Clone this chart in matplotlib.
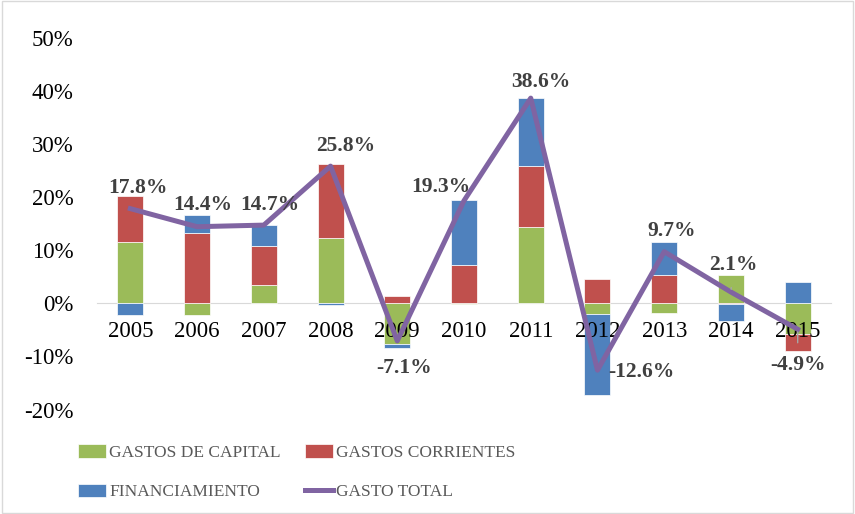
import numpy as np
import matplotlib.pyplot as plt
from matplotlib.patches import Rectangle
from matplotlib.ticker import PercentFormatter

plt.rcParams['font.family'] = ['Liberation Serif', 'DejaVu Serif']
plt.rcParams['axes.unicode_minus'] = False

# Datos (variación %)
years = ['2005', '2006', '2007', '2008', '2009', '2010', '2011', '2012', '2013', '2014', '2015']
capital = [11.5, -2.2, 3.4, 12.2, -7.7, -0.2, 14.4, -2.0, -1.8, 5.4, -5.7]
corrientes = [8.6, 13.2, 7.3, 14.0, 1.3, 7.1, 11.5, 4.6, 5.4, -0.2, -3.2]
financiamiento = [-2.3, 3.4, 4.0, -0.4, -0.7, 12.4, 12.7, -15.2, 6.1, -3.1, 4.0]
total = [17.8, 14.4, 14.7, 25.8, -7.1, 19.3, 38.6, -12.6, 9.7, 2.1, -4.9]

series = [('GASTOS DE CAPITAL', capital, '#9BBB59'),
          ('GASTOS CORRIENTES', corrientes, '#C0504D'),
          ('FINANCIAMIENTO', financiamiento, '#4F81BD')]

fig = plt.figure(figsize=(8.55, 5.14), dpi=100)
ax = fig.add_axes([0.1134, 0.2033, 0.8586, 0.7237])

x = np.arange(len(years))
pos_bottom = np.zeros(len(years))
neg_bottom = np.zeros(len(years))
handles = []
for name, vals, col in series:
    v = np.array(vals)
    bottom = np.where(v >= 0, pos_bottom, neg_bottom)
    b = ax.bar(x, v, 0.39, bottom=bottom, color=col, edgecolor='white', linewidth=0.5, label=name, zorder=2)
    handles.append(b)
    pos_bottom += np.where(v >= 0, v, 0)
    neg_bottom += np.where(v < 0, v, 0)

line, = ax.plot(x, total, color='#8064A2', lw=3.6, solid_joinstyle='round', zorder=3, label='GASTO TOTAL')

# etiquetas de datos (desplazamiento en pixeles)
offsets = [(8, 21), (6, 22), (6, 20), (15, 20), (7, -27), (-23, 14),
           (10, 16), (44, -2), (7, 21), (2, 27), (0, -36)]
for i, t in enumerate(total):
    arrow = None
    if i in (9, 10):
        arrow = dict(arrowstyle='-', color='#A6A6A6', lw=1, shrinkA=7, shrinkB=2)
    ax.annotate(f'{t:.1f}%', (x[i], t), xytext=offsets[i], textcoords='offset pixels',
                ha='center', va='center', fontsize=15.5, fontweight='bold', color='#404040',
                arrowprops=arrow, zorder=4)

ax.set_xlim(-0.5, len(years) - 0.5)
ax.set_ylim(-20, 50)
ax.set_yticks(np.arange(-20, 51, 10))
ax.yaxis.set_major_formatter(PercentFormatter(decimals=0))
ax.set_xticks(x)
ax.set_xticklabels(years)

for s in ['top', 'right', 'left']:
    ax.spines[s].set_visible(False)
ax.spines['bottom'].set_position(('data', 0))
ax.spines['bottom'].set_color('#D9D9D9')
ax.spines['bottom'].set_zorder(1)
ax.xaxis.set_zorder(2.5)
ax.tick_params(axis='x', length=0, pad=13, labelsize=16.5)
ax.tick_params(axis='y', length=0, pad=17, labelsize=16.5)

leg_handles = [handles[0], handles[2], handles[1], line]
leg = fig.legend(leg_handles, [h.get_label() for h in leg_handles], ncol=2, loc='upper left',
                 bbox_to_anchor=(0.073, 0.166), frameon=False, fontsize=12.5,
                 handlelength=1.6, handleheight=0.8, handletextpad=0.2,
                 columnspacing=1.4, labelspacing=1.3)
for txt in leg.get_texts():
    txt.set_color('#595959')

fig.patches.append(Rectangle((0.002, 0.002), 0.996, 0.996, transform=fig.transFigure,
                             fill=False, edgecolor='#D9D9D9', lw=1))

fig.savefig('out.png', dpi=100)
